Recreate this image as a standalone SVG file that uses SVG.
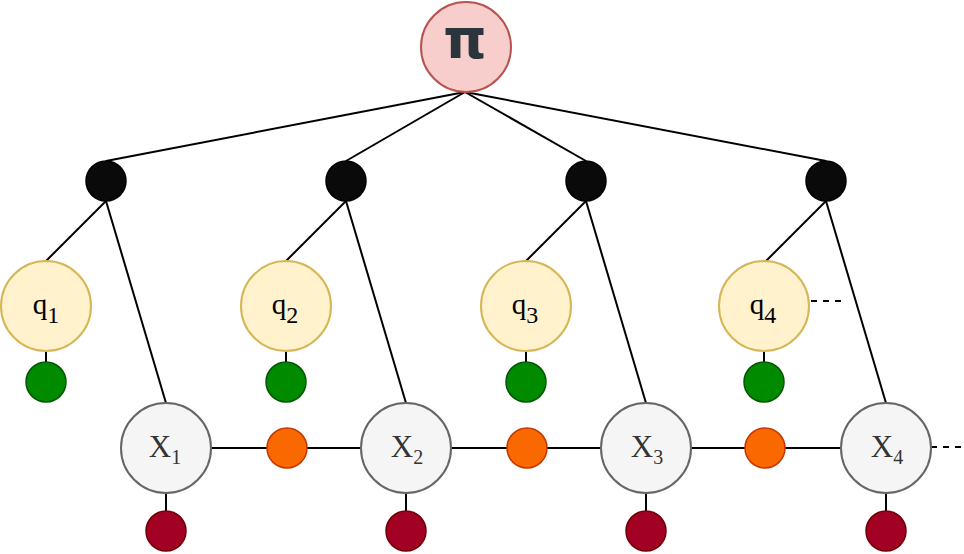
<svg xmlns="http://www.w3.org/2000/svg" width="964" height="554" viewBox="0 0 964 554">
  <style>
    .edge { stroke: #000; stroke-width: 2; fill: none; }
    .dash { stroke: #000; stroke-width: 2; fill: none; stroke-dasharray: 6 6; }
    .pi { fill: #f8cecc; stroke: #b85450; stroke-width: 2; }
    .hub { fill: #0a0a0a; stroke: #000; stroke-width: 1.5; }
    .q { fill: #fff2cc; stroke: #d6b656; stroke-width: 2; }
    .x { fill: #f5f5f5; stroke: #666; stroke-width: 2; }
    .g { fill: #008a00; stroke: #005700; stroke-width: 1.5; }
    .o { fill: #fa6800; stroke: #c73500; stroke-width: 1.5; }
    .r { fill: #a20025; stroke: #6f0000; stroke-width: 1.5; }
    .qt { font-family: "Liberation Serif", serif; font-size: 29px; fill: #000; text-anchor: middle; }
    .qs { font-size: 24px; }
    .xt { font-family: "Liberation Serif", serif; font-size: 31px; fill: #333; text-anchor: middle; }
    .xs { font-size: 20px; }
    .pit { font-family: "DejaVu Sans", sans-serif; font-weight: bold; font-size: 55px; fill: #2b363c; text-anchor: middle; }
  </style>

  <g id="connectors">
    <!-- root to hubs -->
    <line class="edge" x1="465" y1="92" x2="106" y2="161"/>
    <line class="edge" x1="465" y1="92" x2="346" y2="161"/>
    <line class="edge" x1="465" y1="92" x2="586" y2="161"/>
    <line class="edge" x1="465" y1="92" x2="826" y2="161"/>
    <!-- hubs to q and X -->
    <line class="edge" x1="106" y1="201" x2="46" y2="261"/>
    <line class="edge" x1="106" y1="201" x2="166" y2="403"/>
    <line class="edge" x1="346" y1="201" x2="286" y2="261"/>
    <line class="edge" x1="346" y1="201" x2="406" y2="403"/>
    <line class="edge" x1="586" y1="201" x2="526" y2="261"/>
    <line class="edge" x1="586" y1="201" x2="646" y2="403"/>
    <line class="edge" x1="826" y1="201" x2="766" y2="261"/>
    <line class="edge" x1="826" y1="201" x2="886" y2="403"/>
    <!-- q to green -->
    <line class="edge" x1="46" y1="351" x2="46" y2="362"/>
    <line class="edge" x1="286" y1="351" x2="286" y2="362"/>
    <line class="edge" x1="526" y1="351" x2="526" y2="362"/>
    <line class="edge" x1="764" y1="351" x2="764" y2="362"/>
    <!-- X chain -->
    <line class="edge" x1="211" y1="448" x2="361" y2="448"/>
    <line class="edge" x1="451" y1="448" x2="601" y2="448"/>
    <line class="edge" x1="691" y1="448" x2="841" y2="448"/>
    <!-- X to red -->
    <line class="edge" x1="166" y1="493" x2="166" y2="511"/>
    <line class="edge" x1="406" y1="493" x2="406" y2="511"/>
    <line class="edge" x1="646" y1="493" x2="646" y2="511"/>
    <line class="edge" x1="886" y1="493" x2="886" y2="511"/>
    <!-- continuation -->
    <line class="dash" x1="811" y1="301" x2="841" y2="301"/>
    <line class="dash" x1="931" y1="447" x2="964" y2="447"/>
  </g>

  <g id="pi">
    <circle class="pi" cx="466" cy="47" r="45"/>
    <text class="pit" x="465" y="58">π</text>
  </g>

  <g id="hub1"><circle class="hub" cx="106" cy="181" r="20"/></g>
  <g id="hub2"><circle class="hub" cx="346" cy="181" r="20"/></g>
  <g id="hub3"><circle class="hub" cx="586" cy="181" r="20"/></g>
  <g id="hub4"><circle class="hub" cx="826" cy="181" r="20"/></g>

  <g id="q1"><circle class="q" cx="46" cy="306" r="45"/><text class="qt" x="46" y="314">q<tspan class="qs" dy="9">1</tspan></text></g>
  <g id="q2"><circle class="q" cx="286" cy="306" r="45"/><text class="qt" x="285" y="314">q<tspan class="qs" dy="9">2</tspan></text></g>
  <g id="q3"><circle class="q" cx="526" cy="306" r="45"/><text class="qt" x="525" y="314">q<tspan class="qs" dy="9">3</tspan></text></g>
  <g id="q4"><circle class="q" cx="764" cy="306" r="45"/><text class="qt" x="763" y="314">q<tspan class="qs" dy="9">4</tspan></text></g>

  <g id="g1"><circle class="g" cx="46" cy="382" r="20"/></g>
  <g id="g2"><circle class="g" cx="286" cy="382" r="20"/></g>
  <g id="g3"><circle class="g" cx="526" cy="382" r="20"/></g>
  <g id="g4"><circle class="g" cx="764" cy="382" r="20"/></g>

  <g id="x1"><circle class="x" cx="166" cy="448" r="45"/><text class="xt" x="165" y="457">X<tspan class="xs" dy="7">1</tspan></text></g>
  <g id="x2"><circle class="x" cx="406" cy="448" r="45"/><text class="xt" x="407" y="457">X<tspan class="xs" dy="7">2</tspan></text></g>
  <g id="x3"><circle class="x" cx="646" cy="448" r="45"/><text class="xt" x="647" y="457">X<tspan class="xs" dy="7">3</tspan></text></g>
  <g id="x4"><circle class="x" cx="886" cy="448" r="45"/><text class="xt" x="887" y="457">X<tspan class="xs" dy="7">4</tspan></text></g>

  <g id="o1"><circle class="o" cx="287" cy="448" r="20"/></g>
  <g id="o2"><circle class="o" cx="527" cy="448" r="20"/></g>
  <g id="o3"><circle class="o" cx="765" cy="448" r="20"/></g>

  <g id="r1"><circle class="r" cx="166" cy="531" r="20"/></g>
  <g id="r2"><circle class="r" cx="406" cy="531" r="20"/></g>
  <g id="r3"><circle class="r" cx="646" cy="531" r="20"/></g>
  <g id="r4"><circle class="r" cx="886" cy="531" r="20"/></g>
</svg>
